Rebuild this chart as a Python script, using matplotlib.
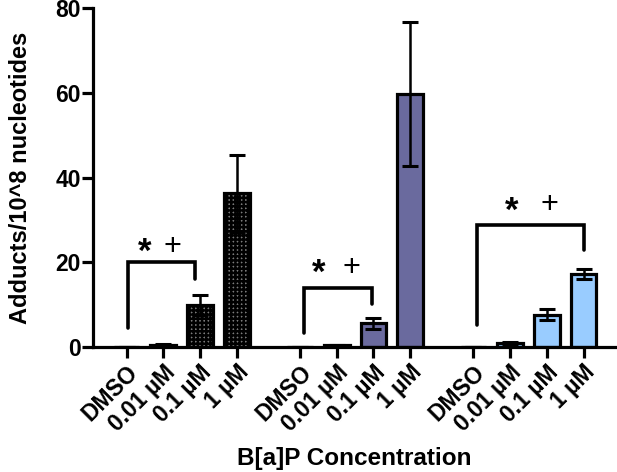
import numpy as np
import matplotlib
matplotlib.use("Agg")
import matplotlib.pyplot as plt

# =========================
# DATA
# =========================
labels = ["DMSO", "0.01 \u00b5M", "0.1 \u00b5M", "1 \u00b5M"]
group1_vals = [0.0, 0.4, 9.9, 36.3]
group1_err = [0.0, 0.3, 2.4, 9.1]
group2_vals = [0.0, 0.3, 5.5, 59.8]
group2_err = [0.0, 0.2, 1.3, 17.0]
group3_vals = [0.0, 0.9, 7.6, 17.1]
group3_err = [0.0, 0.2, 1.3, 1.2]

# significance brackets: (x_left, y_left_bottom, x_right, y_right_bottom, y_top)
brackets = [
    (0.05, 4.4, 1.86, 16.0, 20.0),
    (4.82, 3.2, 6.69, 10.2, 14.0),
    (9.54, 5.1, 12.45, 22.8, 28.7),
]
star_pos = [(0.5, 23.5), (5.23, 18.7), (10.49, 33.4)]
plus_pos = [(1.26, 23.5), (6.12, 18.7), (11.52, 33.4)]

# =========================
# STYLE
# =========================
plt.rcParams["font.family"] = ["Liberation Sans", "DejaVu Sans"]
plt.rcParams["font.weight"] = "bold"
plt.rcParams["hatch.linewidth"] = 1.8
plt.rcParams["hatch.color"] = "#111111"

GAP = 1.72
colors = ["#7a7a7a", "#6a6a9e", "#99ccff"]
hatches = ["++++", None, None]

fig = plt.figure(figsize=(6.17, 4.72), dpi=100)
ax = fig.add_axes([0.151, 0.2655, 0.846, 0.7165])

groups = [(group1_vals, group1_err), (group2_vals, group2_err), (group3_vals, group3_err)]
all_x = []
for gi, (vals, errs) in enumerate(groups):
    x = np.arange(4) + gi * (3 + GAP)
    all_x.extend(x)
    ax.bar(x, vals, width=0.7, color=colors[gi], edgecolor="black",
           linewidth=2.3, hatch=hatches[gi], zorder=2)
    ax.errorbar(x, vals, yerr=errs, fmt="none", ecolor="black",
                elinewidth=1.8, capsize=6, capthick=2.2, zorder=3)

for (xl, yl, xr, yr, yt) in brackets:
    ax.plot([xl, xl, xr, xr], [yl, yt, yt, yr], color="black", lw=2.6,
            solid_capstyle="round", solid_joinstyle="miter", zorder=4)
for (sx, sy) in star_pos:
    ax.text(sx, sy - 1.3, "*", ha="center", va="center", fontsize=25, fontweight="bold")
for (px, py) in plus_pos:
    ax.text(px, py, "+", ha="center", va="center", fontsize=22, fontweight="normal")

ax.set_xlim(-0.91, 13.3)
ax.set_ylim(0, 80)
ax.set_yticks([0, 20, 40, 60, 80])
ax.set_xticks(all_x)
ax.set_xticklabels(labels * 3, rotation=45, ha="right", rotation_mode="anchor",
                   fontsize=16.5, fontweight="bold")
for lab in ax.get_yticklabels():
    lab.set_fontsize(16.5)
    lab.set_fontweight("bold")

for side in ["top", "right"]:
    ax.spines[side].set_visible(False)
for side in ["left", "bottom"]:
    ax.spines[side].set_linewidth(2.3)
ax.tick_params(axis="both", direction="out", length=8, width=2.3, pad=1)
ax.tick_params(axis="x", pad=2)

ax.set_ylabel("Adducts/10^8 nucleotides", fontsize=17, fontweight="bold", labelpad=17)
ax.set_xlabel("B[a]P Concentration", fontsize=17.5, fontweight="bold", labelpad=8)

fig.savefig("out.png", dpi=100)
